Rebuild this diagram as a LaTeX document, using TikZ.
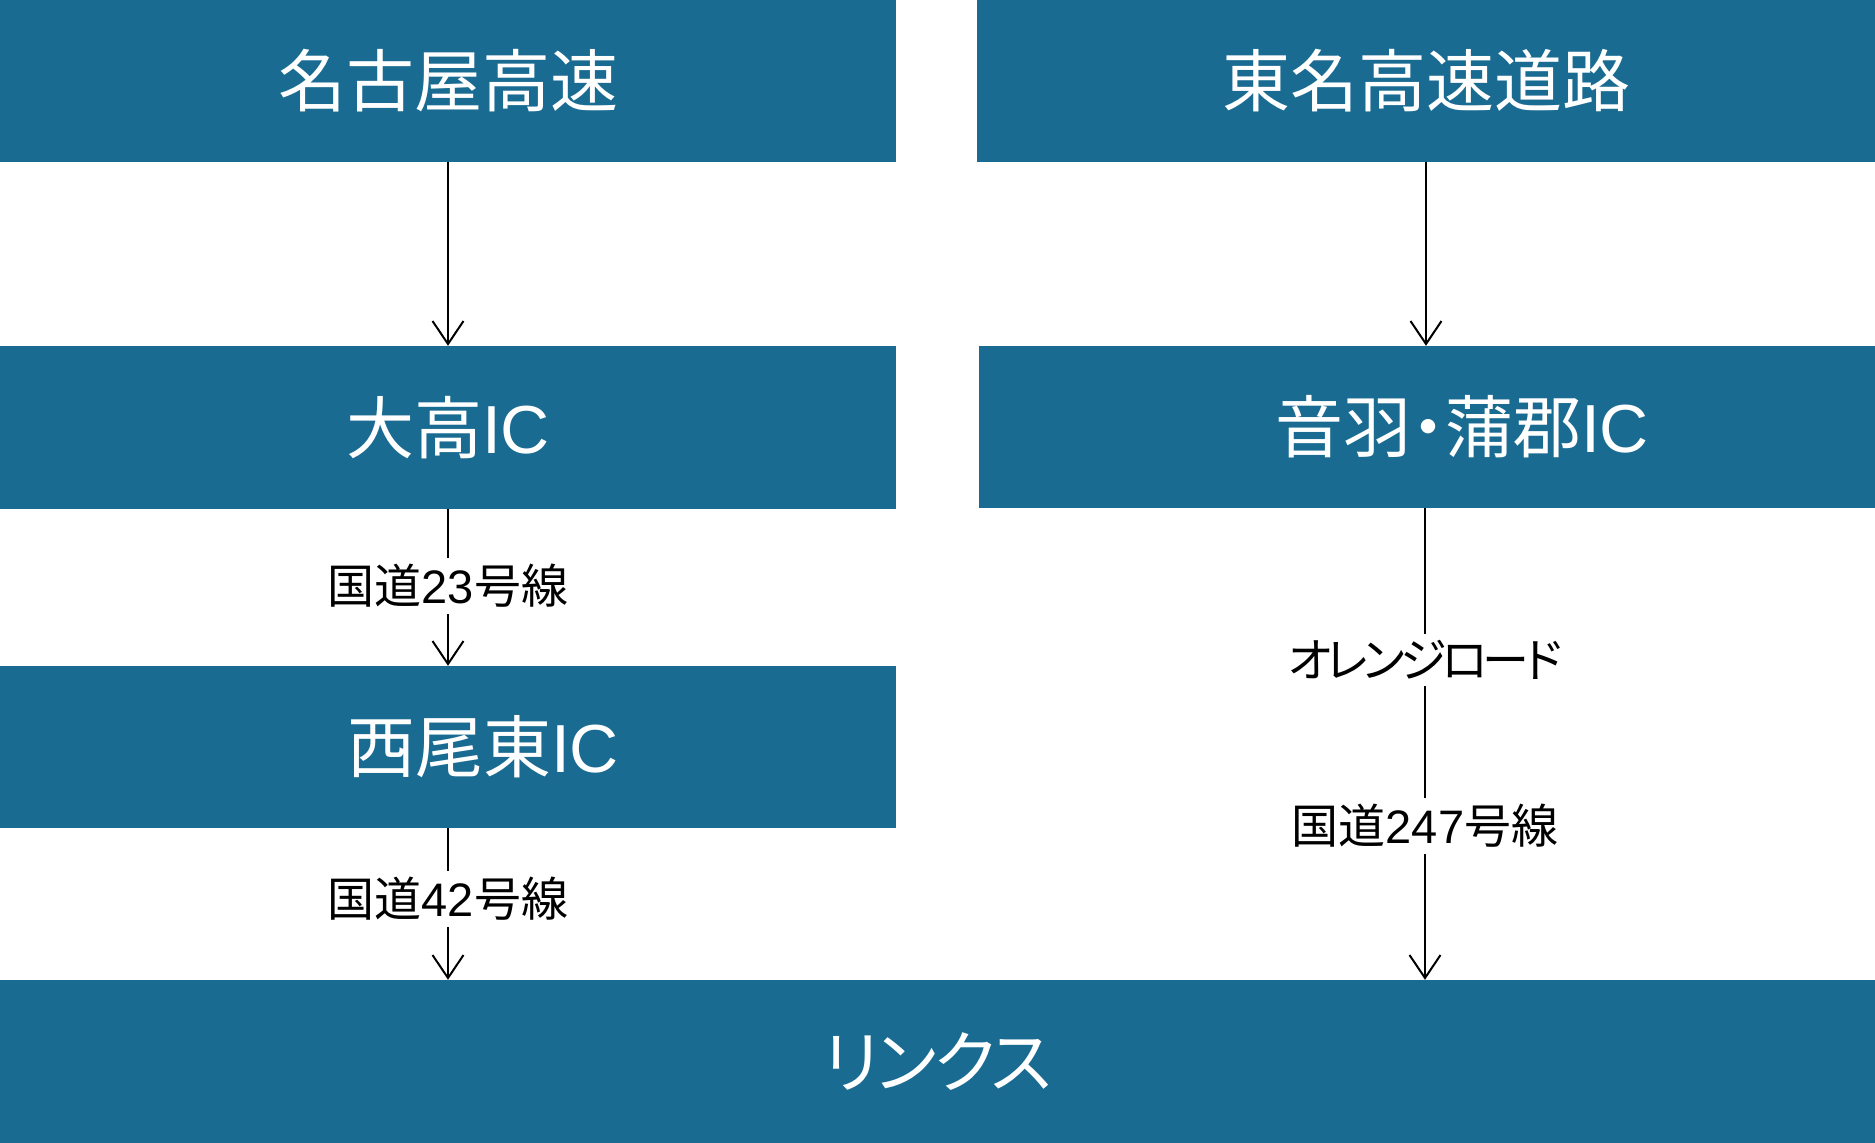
\documentclass[tikz,border=0pt]{standalone}
\usepackage{fontspec}
\setmainfont[RawFeature=+palt]{Noto Sans CJK JP}
\newfontfamily\latfont{Liberation Sans}
\usetikzlibrary{arrows.meta}
\definecolor{boxblue}{RGB}{25,107,146}
\begin{document}
\begin{tikzpicture}[x=1pt,y=-1pt,
  box/.style={rectangle, fill=boxblue, draw=none, inner sep=0pt, text=white,
    font=\fontsize{68}{80}\selectfont},
  conn/.style={draw=black, line width=2pt, -{Straight Barb[length=23pt,width=31pt,line width=2pt]}},
  rlabel/.style={fill=white, inner xsep=4pt, inner ysep=6pt, text=black, font=\fontsize{47}{54}\selectfont}]
\useasboundingbox (0,0) rectangle (1875,1143);
\node[box, minimum width=896pt, minimum height=162pt] (nagoya) at (448,81) {名古屋高速};
\node[box, minimum width=898pt, minimum height=162pt] (tomei) at (1426,81) {東名高速道路};
\node[box, minimum width=896pt, minimum height=163pt] (odaka) at (448,427.5) {大高{\latfont IC}};
\node[box, minimum width=896pt, minimum height=162pt] (otowa) at (1427,427) {\hspace*{70pt}音羽・蒲郡{\latfont IC}};
\node[box, minimum width=896pt, minimum height=162pt] (nishio) at (448,747) {\hspace*{70pt}西尾東{\latfont IC}};
\node[box, minimum width=1875pt, minimum height=163pt] (links) at (937.5,1061.5) {{\addfontfeature{LetterSpace=-4}リンクス}};

\draw[conn] (nagoya.south) -- (odaka.north);
\draw[conn] (tomei.south) -- (tomei.south |- otowa.north);
\draw[conn] (odaka.south) -- node[rlabel, pos=0.49] (l23) {国道{\latfont 23}号線} (nishio.north);
\draw[conn] (nishio.south) -- node[rlabel, pos=0.467] (l42) {国道{\latfont 42}号線} (nishio.south |- links.north);
\draw[conn] ([xshift=-2pt]otowa.south) -- node[rlabel, pos=0.322] (lor) {\addfontfeature{LetterSpace=-10}オレンジロード}
  node[rlabel, pos=0.674] (l247) {国道{\latfont 247}号線} ([xshift=-2pt]otowa.south |- links.north);
\end{tikzpicture}
\end{document}
